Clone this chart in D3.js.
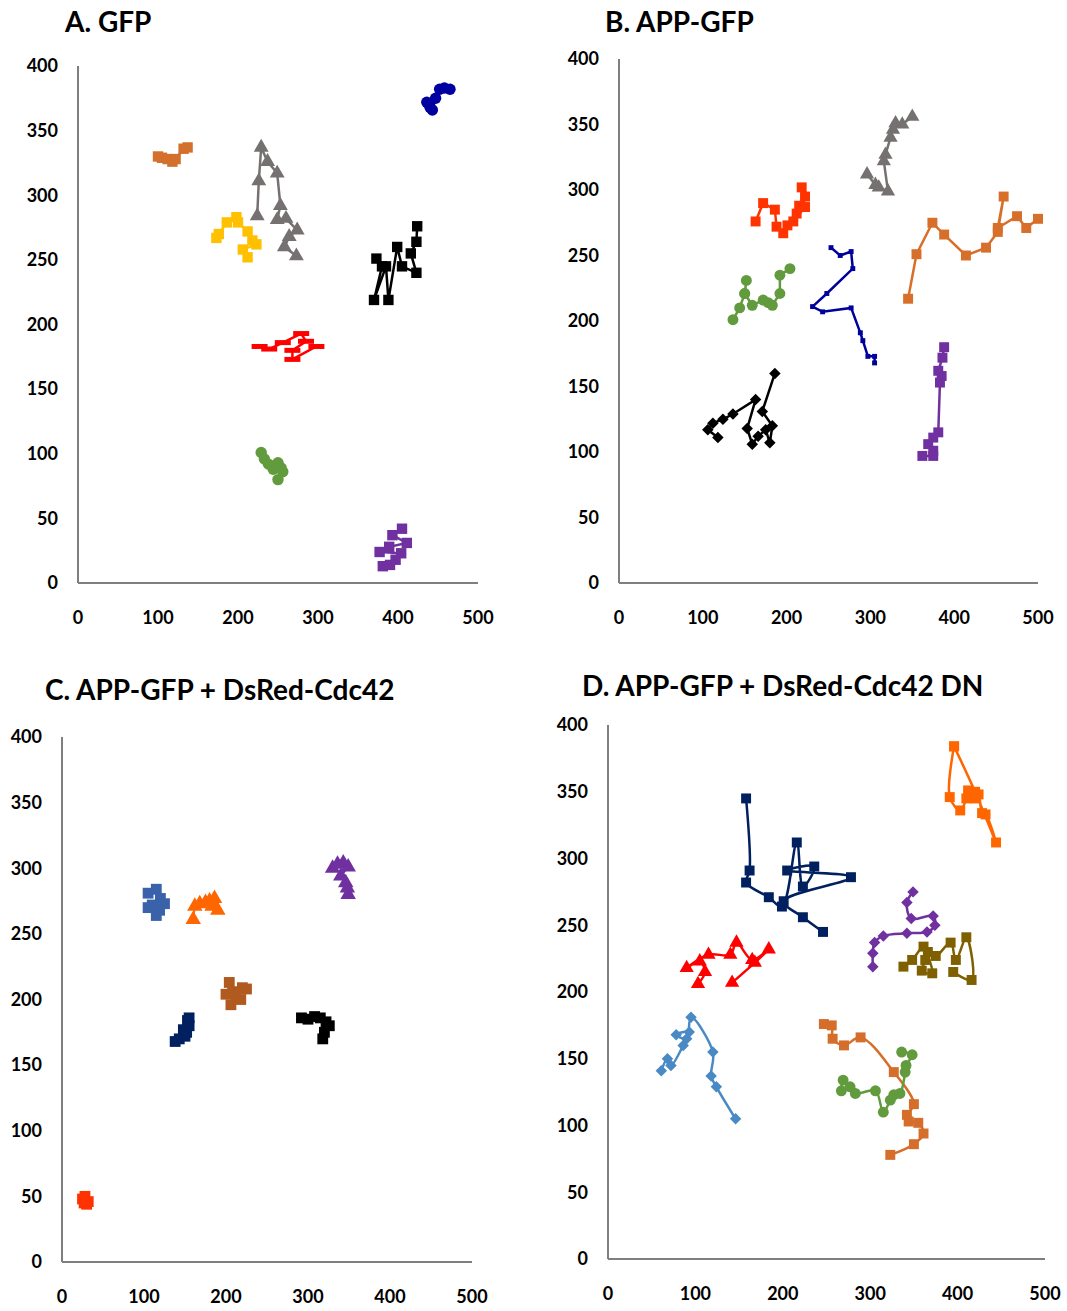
<!DOCTYPE html>
<html lang="en">
<head>
<meta charset="UTF-8">
<script src="https://cdn.jsdelivr.net/npm/d3@7"></script>
<title>Trajectories</title>
<style>
    body { margin: 0; background: #fff; }
    svg { font-family: Lato, "Liberation Sans", sans-serif; }
    .tick-label { font-size: 18px; font-weight: bold; fill: #000; }
    .title { font-size: 28px; font-weight: bold; fill: #000; }
</style>
</head>
<body>
<div id="chart"></div>
<script>
    const xTicks = [0, 100, 200, 300, 400, 500];
    const yTicks = [0, 50, 100, 150, 200, 250, 300, 350, 400];

    // panel A - GFP
    const aOrange = [[100,330],[105,329],[112,328],[118,326],[122,328],[132,336],[137,337]];
    const aGray = [[224,284],[226,311],[229,337],[237,326],[249,317],[253,292],[249,281],[260,282],[274,273],[264,268],[258,260],[273,253]];
    const aYellow = [[173,267],[176,270],[186,279],[198,283],[200,279],[212,272],[218,265],[223,262],[206,258],[212,252]];
    const aRed = [[227,183],[239,181],[256,186],[279,193],[285,187],[268,180],[268,173],[298,183]];
    const aBlue = [[436,372],[440,368],[443,366],[447,375],[452,382],[458,383],[465,382]];
    const aBlack = [[373,251],[380,245],[370,219],[385,245],[388,219],[399,260],[405,245],[423,240],[416,255],[423,264],[424,276]];
    const aGreen = [[229,101],[233,96],[238,92],[244,88],[250,93],[254,89],[256,86],[250,80]];
    const aPurple = [[405,42],[393,37],[411,31],[389,28],[377,24],[404,23],[397,18],[381,13],[390,14]];

    // panel B - APP-GFP
    const bRed = [[163,276],[172,290],[186,285],[188,272],[196,267],[201,273],[212,282],[215,288],[222,295],[218,302],[222,287],[208,276]];
    const bGreen = [[136,201],[144,210],[150,221],[152,231],[150,221],[159,212],[172,216],[178,214],[183,212],[192,221],[192,235],[204,240]];
    const bGray = [[296,312],[306,304],[310,302],[321,299],[316,322],[318,327],[324,340],[327,346],[330,351],[338,350],[350,356]];
    const bOrange = [[345,217],[355,251],[374,275],[388,266],[414,250],[438,256],[452,268],[459,295],[452,271],[475,280],[486,271],[500,278]];
    const bBlue = [[253,256],[264,250],[277,253],[279,240],[248,221],[231,211],[243,207],[277,210],[288,191],[291,185],[297,173],[305,173],[305,168]];
    const bBlack = [[118,111],[106,117],[112,122],[124,125],[136,129],[163,140],[153,118],[159,106],[166,112],[175,117],[180,107],[183,120],[171,131],[186,160]];
    const bPurple = [[362,97],[375,97],[375,101],[369,106],[375,111],[381,115],[383,153],[385,158],[381,162],[386,172],[388,180]];

    // panel C - APP-GFP + DsRed-Cdc42
    const cSteel = [[105,281],[115,284],[120,277],[125,273],[110,272],[105,270],[119,268],[115,264]];
    const cOrange = [[160,261],[162,271],[168,273],[175,274],[180,275],[186,277],[190,268],[183,271]];
    const cPurple = [[330,300],[336,303],[343,304],[349,301],[340,294],[346,289],[348,285],[349,280]];
    const cBrown = [[204,213],[208,206],[220,209],[225,208],[200,204],[212,203],[218,200],[206,196]];
    const cNavy = [[138,168],[143,170],[150,172],[155,180],[153,184],[148,177],[155,186],[152,175]];
    const cBlack = [[292,186],[300,185],[308,187],[315,186],[322,183],[326,180],[320,175],[318,170]];
    const cRed = [[25,48],[28,50],[32,46],[30,44],[27,45]];

    // panel D - APP-GFP + DsRed-Cdc42 DN
    const dOrange = [[396,384],[391,346],[403,336],[410,345],[412,351],[420,345],[424,348],[428,334],[432,333],[444,312],[420,350],[396,384]];
    const dNavy = [[158,345],[162,291],[158,282],[184,271],[199,264],[216,312],[223,279],[236,294],[205,291],[278,286],[201,268],[223,256],[246,245]];
    const dRed = [[103,206],[111,215],[105,223],[90,218],[115,228],[140,228],[147,237],[165,224],[184,232],[168,222],[142,207]];
    const dPurple = [[303,219],[303,229],[305,237],[315,242],[342,244],[365,245],[374,250],[372,257],[347,255],[342,267],[349,275]];
    const dOlive = [[338,219],[348,224],[361,234],[363,224],[359,216],[371,214],[366,230],[375,227],[392,237],[398,224],[410,241],[416,209],[395,215]];
    const dLightBlue = [[61,141],[68,150],[72,145],[86,160],[93,170],[78,168],[90,165],[95,181],[120,155],[118,137],[124,129],[146,105]];
    const dCopper = [[247,176],[256,175],[257,165],[270,160],[289,166],[327,140],[350,116],[342,108],[344,103],[355,102],[361,94],[350,86],[323,78]];
    const dGreen = [[269,134],[267,126],[277,129],[283,124],[306,126],[315,110],[323,119],[327,123],[334,124],[340,140],[341,145],[348,153],[336,155]];

    const panels = [
        { title: "A. GFP", tx: 65, ty: 32, left: 78, right: 478, bottom: 583, top: 66, curve: d3.curveLinear, width: 2.5, k: 1.2,
          series: [
            { data: aOrange, color: "#d2702c", shape: "square" },
            { data: aGray, color: "#767171", shape: "triangle" },
            { data: aYellow, color: "#ffc000", shape: "square" },
            { data: aRed, color: "#ff0000", shape: "dash" },
            { data: aBlue, color: "#0000a0", shape: "circle" },
            { data: aBlack, color: "#000000", shape: "square" },
            { data: aGreen, color: "#619b3d", shape: "circle" },
            { data: aPurple, color: "#7030a0", shape: "square" }
          ] },
        { title: "B. APP-GFP", tx: 605, ty: 32, left: 619, right: 1038, bottom: 583, top: 59, curve: d3.curveLinear, width: 2.5, k: 1.1,
          series: [
            { data: bRed, color: "#ff3300", shape: "square" },
            { data: bGreen, color: "#619b3d", shape: "circle" },
            { data: bGray, color: "#767171", shape: "triangle" },
            { data: bOrange, color: "#d76f2a", shape: "square" },
            { data: bBlue, color: "#00009c", shape: "small" },
            { data: bBlack, color: "#000000", shape: "diamond" },
            { data: bPurple, color: "#7030a0", shape: "square" }
          ] },
        { title: "C. APP-GFP + DsRed-Cdc42", tx: 45, ty: 700, left: 62, right: 472, bottom: 1262, top: 737, curve: d3.curveLinear, width: 2, k: 1.3,
          series: [
            { data: cSteel, color: "#3a62aa", shape: "square" },
            { data: cOrange, color: "#ff6600", shape: "triangle" },
            { data: cPurple, color: "#7030a0", shape: "triangle" },
            { data: cBrown, color: "#b05a20", shape: "square" },
            { data: cNavy, color: "#002060", shape: "square" },
            { data: cBlack, color: "#000000", shape: "square" },
            { data: cRed, color: "#ff3300", shape: "square" }
          ] },
        { title: "D. APP-GFP + DsRed-Cdc42 DN", tx: 582, ty: 696, left: 608, right: 1045, bottom: 1259, top: 725, curve: d3.curveCatmullRom.alpha(0.5), width: 2.5, k: 1.1,
          series: [
            { data: dOrange, color: "#ff6600", shape: "square" },
            { data: dNavy, color: "#002060", shape: "square" },
            { data: dRed, color: "#ff0000", shape: "triangle" },
            { data: dPurple, color: "#7030a0", shape: "diamond" },
            { data: dOlive, color: "#7f6000", shape: "square" },
            { data: dLightBlue, color: "#4a8ac4", shape: "diamond" },
            { data: dCopper, color: "#d46e2a", shape: "square" },
            { data: dGreen, color: "#619b3d", shape: "circle" }
          ] }
    ];

    const svg = d3.select("#chart").append("svg")
        .attr("width", 1067)
        .attr("height", 1311);

    const symbolPath = (shape, k) => {
        if (shape === "square") return d3.symbol(d3.symbolSquare, 90 * k)();
        if (shape === "triangle") return d3.symbol(d3.symbolTriangle, 80 * k)();
        if (shape === "circle") return d3.symbol(d3.symbolCircle, 85 * k)();
        if (shape === "diamond") return d3.symbol(d3.symbolSquare, 60 * k)();
        if (shape === "small") return d3.symbol(d3.symbolSquare, 22 * k)();
        return "M-8,-2.5h16v5h-16z"; // dash
    };

    panels.forEach(p => {
        const x = d3.scaleLinear().domain([0, 500]).range([p.left, p.right]);
        const y = d3.scaleLinear().domain([0, 400]).range([p.bottom, p.top]);
        const g = svg.append("g");

        g.append("text").attr("class", "title")
            .attr("x", p.tx).attr("y", p.ty).text(p.title);

        g.append("line")
            .attr("x1", p.left).attr("x2", p.left)
            .attr("y1", p.top).attr("y2", p.bottom)
            .attr("stroke", "#7f7f7f").attr("stroke-width", 2);
        g.append("line")
            .attr("x1", p.left).attr("x2", p.right)
            .attr("y1", p.bottom).attr("y2", p.bottom)
            .attr("stroke", "#7f7f7f").attr("stroke-width", 2);

        g.selectAll(".xl").data(xTicks).enter().append("text")
            .attr("class", "tick-label")
            .attr("x", d => x(d)).attr("y", p.bottom + 35)
            .attr("dy", "0.35em").attr("text-anchor", "middle")
            .text(d => d);
        g.selectAll(".yl").data(yTicks).enter().append("text")
            .attr("class", "tick-label")
            .attr("x", p.left - 20).attr("y", d => y(d))
            .attr("dy", "0.35em").attr("text-anchor", "end")
            .text(d => d);

        const line = d3.line().x(d => x(d[0])).y(d => y(d[1])).curve(p.curve);

        p.series.forEach(s => {
            g.append("path")
                .attr("d", line(s.data))
                .attr("fill", "none")
                .attr("stroke", s.color)
                .attr("stroke-width", p.width);
            g.selectAll(null).data(s.data).enter().append("path")
                .attr("d", symbolPath(s.shape, p.k))
                .attr("transform", d => `translate(${x(d[0])},${y(d[1])})` + (s.shape === "diamond" ? " rotate(45)" : ""))
                .attr("fill", s.color);
        });
    });
</script>
</body>
</html>
